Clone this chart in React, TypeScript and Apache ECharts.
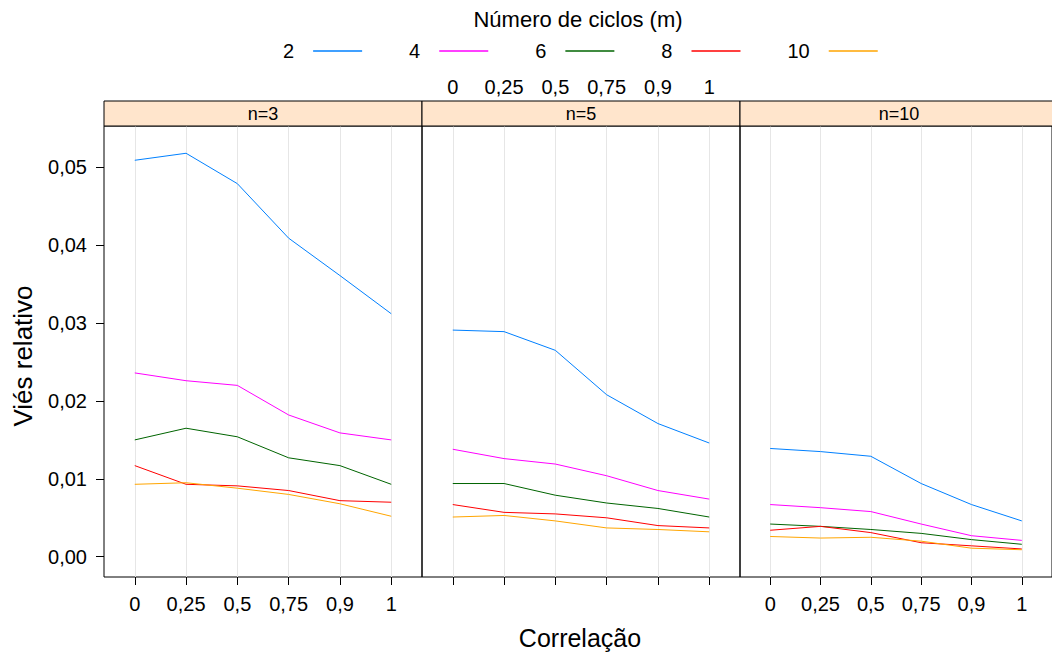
import React, { useEffect, useRef } from 'react';
import * as echarts from 'echarts';

// ---------- data ----------
const correlations = ['0', '0,25', '0,5', '0,75', '0,9', '1'];
const panels = ['n=3', 'n=5', 'n=10'];
const cycles = ['2', '4', '6', '8', '10'];
const cycleColors = ['#0080ff', '#ff00ff', '#006400', '#ff0000', '#ffa500'];
const yTicks = [0, 0.01, 0.02, 0.03, 0.04, 0.05];

// n = 3
const n3_m2 = [0.0509, 0.0518, 0.0479, 0.0409, 0.0361, 0.0312];
const n3_m4 = [0.0236, 0.0226, 0.0220, 0.0182, 0.0159, 0.0150];
const n3_m6 = [0.0150, 0.0165, 0.0154, 0.0127, 0.0117, 0.0093];
const n3_m8 = [0.0117, 0.0093, 0.0091, 0.0085, 0.0072, 0.0070];
const n3_m10 = [0.0093, 0.0095, 0.0088, 0.0080, 0.0068, 0.0052];

// n = 5
const n5_m2 = [0.0291, 0.0289, 0.0265, 0.0208, 0.0171, 0.0146];
const n5_m4 = [0.0138, 0.0126, 0.0119, 0.0104, 0.0085, 0.0074];
const n5_m6 = [0.0094, 0.0094, 0.0079, 0.0069, 0.0062, 0.0051];
const n5_m8 = [0.0067, 0.0057, 0.0055, 0.0050, 0.0040, 0.0037];
const n5_m10 = [0.0051, 0.0053, 0.0046, 0.0037, 0.0035, 0.0032];

// n = 10
const n10_m2 = [0.0139, 0.0135, 0.0129, 0.0094, 0.0067, 0.0046];
const n10_m4 = [0.0067, 0.0063, 0.0058, 0.0042, 0.0027, 0.0021];
const n10_m6 = [0.0042, 0.0039, 0.0035, 0.0030, 0.0022, 0.0016];
const n10_m8 = [0.0034, 0.0039, 0.0031, 0.0018, 0.0014, 0.0010];
const n10_m10 = [0.0026, 0.0024, 0.0025, 0.0020, 0.0011, 0.0009];

const panelData = [
  [n3_m2, n3_m4, n3_m6, n3_m8, n3_m10],
  [n5_m2, n5_m4, n5_m6, n5_m8, n5_m10],
  [n10_m2, n10_m4, n10_m6, n10_m8, n10_m10],
];

// ---------- layout ----------
const FONT = "'Liberation Sans', Arial, sans-serif";
const PANEL_LEFT = [104, 422, 740];
const PANEL_W = 318;
const PANEL_TOP = 126;
const PANEL_H = 451;
const STRIP_H = 25;
const TICK_FS = 20;

const catIdx = correlations.map((_, i) => i);
const fmtY = (v: number) => v.toFixed(2).replace('.', ',');
const fmtX = (v: number) => correlations[Math.round(v)] ?? '';

function buildOption() {
  const grid = PANEL_LEFT.map((left) => ({
    left,
    top: PANEL_TOP,
    width: PANEL_W,
    height: PANEL_H,
    show: true,
    borderColor: '#000',
    borderWidth: 1,
    backgroundColor: 'transparent',
    containLabel: false,
  }));

  const xAxis: any[] = PANEL_LEFT.map((_, i) => ({
    type: 'value',
    gridIndex: i,
    position: 'bottom',
    min: -0.6,
    max: 5.6,
    axisLine: { show: false, onZero: false },
    axisTick: {
      show: true,
      inside: false,
      length: 8,
      customValues: catIdx,
      lineStyle: { color: '#000', width: 1 },
    },
    axisLabel: {
      show: i !== 1,
      customValues: catIdx,
      formatter: fmtX,
      margin: 17,
      fontSize: TICK_FS,
      fontFamily: FONT,
      color: '#000',
    },
    splitLine: { show: true, lineStyle: { color: '#e6e6e6', width: 1 } },
  }));
  // top labels of the middle panel (above the strip)
  xAxis.push({
    type: 'value',
    gridIndex: 1,
    position: 'top',
    offset: STRIP_H,
    min: -0.6,
    max: 5.6,
    axisLine: { show: false, onZero: false },
    axisTick: { show: false, customValues: catIdx },
    axisLabel: {
      show: true,
      customValues: catIdx,
      formatter: fmtX,
      margin: 4,
      fontSize: TICK_FS,
      fontFamily: FONT,
      color: '#000',
    },
    splitLine: { show: false },
  });

  const yAxis = PANEL_LEFT.map((_, i) => ({
    type: 'value',
    gridIndex: i,
    position: 'left',
    min: -0.0026,
    max: 0.0553,
    axisLine: { show: false, onZero: false },
    axisTick: {
      show: i === 0,
      inside: false,
      length: 8,
      customValues: yTicks,
      lineStyle: { color: '#000', width: 1 },
    },
    axisLabel: {
      show: i === 0,
      customValues: yTicks,
      formatter: fmtY,
      margin: 17,
      fontSize: TICK_FS,
      fontFamily: FONT,
      color: '#000',
    },
    splitLine: { show: false },
  }));

  const series: any[] = [];
  panelData.forEach((lines, p) => {
    lines.forEach((vals, c) => {
      series.push({
        type: 'line',
        name: cycles[c],
        xAxisIndex: p,
        yAxisIndex: p,
        data: vals.map((v, k) => [catIdx[k], v]),
        symbol: 'none',
        showSymbol: false,
        silent: true,
        lineStyle: { width: 1, color: cycleColors[c] },
        itemStyle: { color: cycleColors[c] },
      });
    });
  });

  const graphic: any[] = [];
  panels.forEach((label, i) => {
    graphic.push({
      type: 'rect',
      shape: { x: PANEL_LEFT[i], y: PANEL_TOP - STRIP_H, width: PANEL_W, height: STRIP_H },
      style: { fill: '#ffe5cc', stroke: '#000', lineWidth: 1 },
      z: 10,
    });
    graphic.push({
      type: 'text',
      x: PANEL_LEFT[i] + PANEL_W / 2,
      y: PANEL_TOP - STRIP_H / 2,
      style: {
        text: label,
        fill: '#000',
        fontSize: 18,
        fontFamily: FONT,
        align: 'center',
        verticalAlign: 'middle',
      },
      z: 11,
    });
  });
  graphic.push({
    type: 'text',
    x: 578,
    y: 19,
    style: {
      text: 'Número de ciclos (m)',
      fill: '#000',
      fontSize: 22,
      fontFamily: FONT,
      align: 'center',
      verticalAlign: 'middle',
    },
  });
  graphic.push({
    type: 'text',
    x: 580,
    y: 638,
    style: {
      text: 'Correlação',
      fill: '#000',
      fontSize: 25,
      fontFamily: FONT,
      align: 'center',
      verticalAlign: 'middle',
    },
  });
  graphic.push({
    type: 'text',
    x: 23,
    y: 356,
    rotation: Math.PI / 2,
    style: {
      text: 'Viés relativo',
      fill: '#000',
      fontSize: 26,
      fontFamily: FONT,
      align: 'center',
      verticalAlign: 'middle',
    },
  });

  return {
    animation: false,
    backgroundColor: '#ffffff',
    textStyle: { fontFamily: FONT },
    legend: {
      data: cycles,
      left: 283,
      top: 41,
      align: 'right',
      icon: 'rect',
      itemWidth: 49,
      itemHeight: 1.5,
      itemGap: 47,
      padding: 0,
      selectedMode: false,
      textStyle: {
        fontSize: 20,
        fontFamily: FONT,
        color: '#000',
        padding: [0, 14, 0, 0],
      },
    },
    grid,
    xAxis,
    yAxis,
    series,
    graphic,
  };
}

export default function App() {
  const ref = useRef<HTMLDivElement>(null);
  useEffect(() => {
    document.body.style.margin = '0';
    if (!ref.current) return;
    const chart = echarts.init(ref.current, undefined, { renderer: 'svg' });
    chart.setOption(buildOption() as any);
    return () => {
      chart.dispose();
    };
  }, []);
  return (
    <div
      ref={ref}
      style={{ position: 'fixed', left: 0, top: 0, width: 1052, height: 655, background: '#fff' }}
    />
  );
}
